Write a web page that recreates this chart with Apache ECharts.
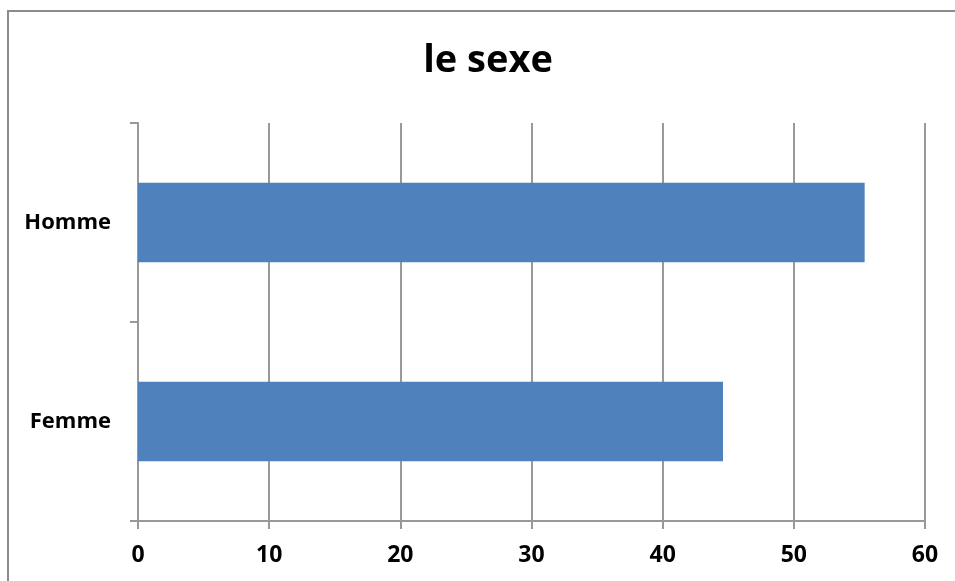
<!DOCTYPE html>
<html>
<head>
<meta charset="utf-8">
<script src="https://cdn.jsdelivr.net/npm/echarts@6/dist/echarts.min.js"></script>
<style>
  html, body { margin: 0; padding: 0; background: #fff; }
  #chart { width: 955px; height: 581px; }
</style>
</head>
<body>
<div id="chart"></div>
<script>
// Categories listed bottom to top, as the category axis draws them
const categories = ['Femme', 'Homme'];
const values = [44.6, 55.4];
const xTicks = [0, 10, 20, 30, 40, 50, 60];
const titleText = 'le sexe';

const chart = echarts.init(document.getElementById('chart'));
const labelFont = '"Open Sans", "DejaVu Sans", sans-serif';
const gridColor = '#999999';

chart.setOption({
  animation: false,
  backgroundColor: '#ffffff',
  title: {
    text: titleText,
    left: 483,
    top: 37,
    textAlign: 'center',
    textStyle: { fontFamily: labelFont, fontSize: 38, fontWeight: 'bold', color: '#000' }
  },
  graphic: [{
    type: 'rect',
    shape: { x: 8, y: 11, width: 1000, height: 700 },
    style: { fill: 'none', stroke: '#8c8c8c', lineWidth: 2 },
    silent: true
  }],
  grid: { left: 138, right: 30, top: 123, bottom: 60, containLabel: false },
  xAxis: {
    type: 'value',
    min: xTicks[0],
    max: xTicks[xTicks.length - 1],
    interval: 10,
    axisLine: { show: true, lineStyle: { color: gridColor, width: 2 } },
    axisTick: { show: true, length: 8, lineStyle: { color: gridColor, width: 2 } },
    splitLine: { show: true, lineStyle: { color: gridColor, width: 2 } },
    axisLabel: { margin: 23, fontFamily: labelFont, fontSize: 23, fontWeight: 'bold', color: '#000' }
  },
  yAxis: {
    type: 'category',
    data: categories,
    axisLine: { show: true, lineStyle: { color: gridColor, width: 2 } },
    axisTick: { show: true, length: 8, lineStyle: { color: gridColor, width: 2 } },
    axisLabel: { margin: 27, fontFamily: labelFont, fontSize: 22, fontWeight: 'bold', color: '#000' }
  },
  series: [{
    type: 'bar',
    data: values,
    barWidth: '40%',
    itemStyle: { color: '#4f81bd' }
  }]
});
</script>
</body>
</html>
